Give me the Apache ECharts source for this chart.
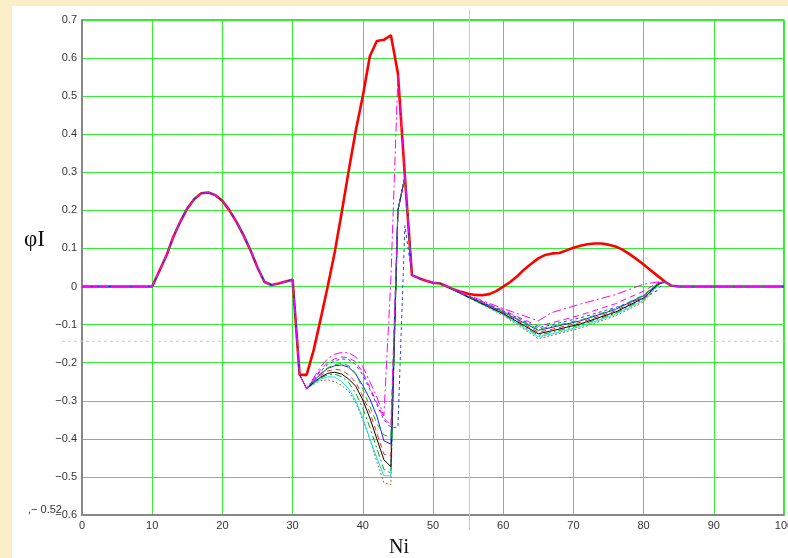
<!DOCTYPE html>
<html>
<head>
<meta charset="utf-8">
<script src="https://cdn.jsdelivr.net/npm/echarts@6/dist/echarts.min.js"></script>
<style>
html,body{margin:0;padding:0;background:#fbeec9;}
#chart{width:788px;height:558px;}
</style>
</head>
<body>
<div id="chart"></div>
<script>
// Ni index (x values)
const ni = [0,1,2,3,4,5,6,7,8,9,10,11,12,13,14,15,16,17,18,19,20,21,22,23,24,25,26,27,28,29,30,
  31,32,33,34,35,36,37,38,39,40,41,42,43,44,45,46,47,48,49,50,51,52,53,54,55,56,57,58,59,60,
  61,62,63,64,65,66,67,68,69,70,71,72,73,74,75,76,77,78,79,80,81,82,83,84,85,86,87,88,89,90,
  91,92,93,94,95,96,97,98,99,100];

// main curve (thick red)
const phiRed = [0,0,0,0,0,0,0,0,0,0,0,0.04,0.08,0.13,0.17,0.205,0.23,0.245,0.247,0.24,0.225,
  0.2,0.17,0.135,0.095,0.05,0.012,0.004,0.008,0.013,0.018,
  -0.232,-0.232,-0.167,-0.085,0.0,0.09,0.195,0.305,0.41,0.5,
  0.605,0.645,0.648,0.66,0.56,0.288,0.03,0.022,0.015,0.01,
  0.008,0.0,-0.008,-0.014,-0.019,-0.022,-0.023,-0.02,-0.012,0.0,
  0.012,0.027,0.045,0.06,0.074,0.083,0.087,0.088,0.095,0.102,
  0.107,0.111,0.113,0.113,0.11,0.105,0.097,0.085,0.072,0.058,
  0.043,0.028,0.013,0.002,0,0,0,0,0,0,0,0,0,0,0,0,0,0,0,0];

// dip section Ni 32..46 for the family curves
const dipNi = [32,33,34,35,36,37,38,39,40,41,42,43,44,45,46];
const dipA = [-0.268,-0.24,-0.21,-0.19,-0.178,-0.173,-0.174,-0.185,-0.21,-0.25,-0.29,-0.34,0.02,0.555,0.288];
const dipB = [-0.268,-0.243,-0.218,-0.2,-0.19,-0.185,-0.187,-0.198,-0.225,-0.265,-0.305,-0.345,-0.365,0.2,0.288];
const dipC = [-0.268,-0.245,-0.222,-0.205,-0.195,-0.19,-0.192,-0.205,-0.232,-0.27,-0.31,-0.35,-0.37,-0.37,0.16];
const dipD = [-0.268,-0.247,-0.228,-0.213,-0.205,-0.202,-0.208,-0.228,-0.27,-0.315,-0.36,-0.39,-0.395,0.2,0.288];
const dipE = [-0.268,-0.248,-0.23,-0.215,-0.208,-0.206,-0.212,-0.23,-0.26,-0.295,-0.34,-0.405,-0.414,0.2,0.288];
const dipF = [-0.268,-0.25,-0.234,-0.222,-0.217,-0.22,-0.232,-0.252,-0.288,-0.33,-0.385,-0.44,-0.445,0.2,0.288];
const dipG = [-0.268,-0.252,-0.238,-0.228,-0.225,-0.23,-0.243,-0.262,-0.298,-0.345,-0.4,-0.455,-0.473,0.2,0.288];
const dipH = [-0.268,-0.253,-0.24,-0.232,-0.23,-0.237,-0.252,-0.28,-0.32,-0.37,-0.425,-0.48,-0.49,0.2,0.288];
const dipI = [-0.268,-0.255,-0.243,-0.237,-0.238,-0.25,-0.268,-0.3,-0.345,-0.4,-0.45,-0.497,-0.497,0.2,0.288];
const dipJ = [-0.268,-0.257,-0.247,-0.245,-0.25,-0.26,-0.275,-0.305,-0.35,-0.4,-0.46,-0.515,-0.52,0.2,0.288];

// trough section knots
const troughNi = [56,60,65,67,71,76,80,82];
const trA = [-0.03,-0.058,-0.09,-0.068,-0.046,-0.021,0.006,0.012];
const trB = [-0.032,-0.062,-0.104,-0.095,-0.075,-0.045,-0.012,0.01];
const trC = [-0.033,-0.064,-0.108,-0.1,-0.082,-0.055,-0.03,-0.01];
const trD = [-0.034,-0.066,-0.112,-0.104,-0.088,-0.058,-0.022,0.008];
const trE = [-0.034,-0.067,-0.115,-0.107,-0.09,-0.06,-0.024,0.007];
const trF = [-0.035,-0.069,-0.12,-0.112,-0.094,-0.064,-0.027,0.006];
const trG = [-0.036,-0.071,-0.124,-0.116,-0.098,-0.067,-0.03,0.005];
const trH = [-0.037,-0.072,-0.128,-0.12,-0.101,-0.07,-0.033,0.004];
const trI = [-0.037,-0.074,-0.132,-0.124,-0.105,-0.073,-0.036,0.003];
const trJ = [-0.038,-0.076,-0.137,-0.128,-0.109,-0.077,-0.04,0.002];

// cursor position (trace lines)
const cursorNi = 55.2;
const cursorPhi = -0.1436;

const yTicks = {min:-0.6, max:0.7, interval:0.1};
const xTicks = {min:0, max:100, interval:10};

function build(dip, tr) {
  const d = [];
  for (let k = 0; k <= 31; k++) d.push([ni[k], phiRed[k]]);
  dipNi.forEach((x, i) => d.push([x, dip[i]]));
  for (let k = 47; k <= 51; k++) d.push([ni[k], phiRed[k]]);
  troughNi.forEach((x, i) => d.push([x, tr[i]]));
  for (let k = 83; k <= 100; k++) d.push([ni[k], phiRed[k]]);
  return d;
}

const family = [
  {d: dipJ, t: trJ, c: '#b8602a', type: [2, 2]},
  {d: dipI, t: trI, c: '#00e8f0', type: 'solid'},
  {d: dipH, t: trH, c: '#00b000', type: [7, 3, 2, 3]},
  {d: dipG, t: trG, c: '#000000', type: 'solid'},
  {d: dipF, t: trF, c: '#ff2020', type: [5, 4]},
  {d: dipE, t: trE, c: '#2020ff', type: 'solid'},
  {d: dipD, t: trD, c: '#00d000', type: [6, 4]},
  {d: dipC, t: trC, c: '#2040ff', type: [3, 3]},
  {d: dipB, t: trB, c: '#ff00ff', type: [6, 4]},
  {d: dipA, t: trA, c: '#ff00ff', type: [9, 3, 2, 3]}
];

const series = [{
  type: 'line', data: ni.map((x, i) => [x, phiRed[i]]), symbol: 'none',
  lineStyle: {color: '#ff0000', width: 2.6}, z: 2
}];
family.forEach((f, i) => series.push({
  type: 'line', data: build(f.d, f.t), symbol: 'none',
  lineStyle: {color: f.c, width: 1, type: f.type}, z: 3 + i
}));

const chart = echarts.init(document.getElementById('chart'));
const fmt = v => {
  const r = Math.round(v * 10) / 10;
  return r < 0 ? '\u2212' + Math.abs(r) : String(r);
};
chart.setOption({
  animation: false,
  backgroundColor: 'transparent',
  grid: {left: 82, right: 4, top: 20, bottom: 43, show: true, borderColor: '#404040', borderWidth: 1,
         containLabel: false, outerBoundsMode: 'none'},
  xAxis: {
    type: 'value', min: xTicks.min, max: xTicks.max, interval: xTicks.interval,
    axisLine: {show: true, onZero: false, lineStyle: {color: '#888', width: 2}},
    axisTick: {show: false},
    axisLabel: {color: '#333', fontSize: 11, fontFamily: 'Liberation Sans', margin: 5},
    splitLine: {show: true, lineStyle: {color: '#33ee33', width: 1}}
  },
  yAxis: {
    type: 'value', min: yTicks.min, max: yTicks.max, interval: yTicks.interval,
    axisLine: {show: true, onZero: false, lineStyle: {color: '#888', width: 2}},
    axisTick: {show: false},
    axisLabel: {color: '#333', fontSize: 11, fontFamily: 'Liberation Sans', margin: 5, formatter: fmt},
    splitLine: {show: true, lineStyle: {color: '#33ee33', width: 1}}
  },
  series: series
});

const p = chart.convertToPixel({gridIndex: 0}, [cursorNi, cursorPhi]);
chart.setOption({
  graphic: [
    {type: 'rect', shape: {x: 12, y: 6, width: 776, height: 552}, style: {fill: '#ffffff'}, z: -100, silent: true},
    {type: 'line', shape: {x1: 62, y1: p[1], x2: 788, y2: p[1]}, style: {stroke: '#c8c8c8', lineWidth: 1, lineDash: [3, 3]}, z: 1},
    {type: 'line', shape: {x1: p[0], y1: 10, x2: p[0], y2: 530}, style: {stroke: '#c8c8c8', lineWidth: 1}, z: 1},
    {type: 'text', left: 24, top: 228, style: {text: '\u03c6I', font: '23px "Liberation Serif"', fill: '#111'}},
    {type: 'text', left: 389, top: 538, style: {text: 'Ni', font: '20px "Liberation Serif"', fill: '#111'}},
    {type: 'text', left: 28, top: 504, style: {text: ',\u2212 0.52', font: '11px "Liberation Sans"', fill: '#333'}}
  ]
});
</script>
</body>
</html>
